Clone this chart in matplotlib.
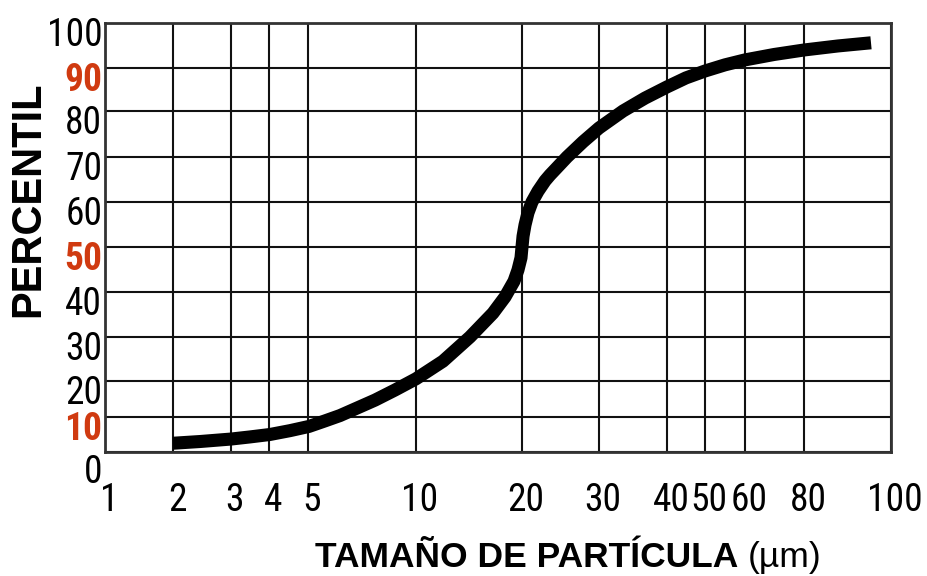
import numpy as np
import matplotlib
matplotlib.use("Agg")
import matplotlib.pyplot as plt
from matplotlib import font_manager
from matplotlib.transforms import ScaledTranslation

# curve: particle size (um) vs cumulative percentile
size_um = [2.0, 2.42, 3.0, 3.46, 4.02, 4.51, 5.03, 5.58, 6.14, 6.89, 7.69, 8.74,
           10.0, 11.93, 14.23, 16.54, 17.9, 18.98, 19.48, 19.87, 20.0, 20.11, 20.32,
           20.64, 21.08, 21.76, 22.58, 23.18, 23.92, 25.35, 27.58, 30.0, 33.21, 36.45,
           40.0, 44.72, 50.0, 54.77, 60.0, 69.11, 80.0, 87.29, 95.0]
percentile = [2.5, 3.0, 3.7, 4.3, 5.0, 6.1, 7.3, 8.9, 10.4, 12.6, 14.7, 17.5,
              20.5, 24.5, 30.0, 35.3, 38.9, 42.4, 44.9, 47.6, 50.0, 52.4, 54.9,
              57.6, 60.0, 62.4, 64.7, 66.0, 67.4, 70.0, 73.3, 76.3, 80.0, 83.0,
              85.6, 87.7, 89.3, 90.7, 91.8, 93.0, 94.0, 94.9, 95.6]

x_ticks = [1, 2, 3, 4, 5, 10, 20, 30, 40, 50, 60, 80, 100]
y_ticks = [0, 10, 20, 30, 40, 50, 60, 70, 80, 90, 100]
red_ticks = [10, 50, 90]

# the paper grid is hand-spaced, not a true log/linear grid: where each
# gridline sits on the sheet (pixels of the original drawing)
x_grid_pos = np.array([105, 173, 231, 269, 308, 416, 522, 599, 667, 705, 745, 804, 891], float)
y_grid_pos = -np.array([452, 417, 381, 337, 292, 247, 202, 157, 111, 68, 23], float)
log_xt = np.log10(x_ticks)


def fwd_x(v):
    v = np.clip(np.asarray(v, float), 1e-6, None)
    return np.interp(np.log10(v), log_xt, x_grid_pos)


def inv_x(p):
    return 10 ** np.interp(p, x_grid_pos, log_xt)


def fwd_y(v):
    return np.interp(v, y_ticks, y_grid_pos)


def inv_y(p):
    return np.interp(p, y_grid_pos, y_ticks)


RED = "#D03A10"
installed = {f.name for f in font_manager.fontManager.ttflist}
tick_font = next((f for f in ["Liberation Sans Narrow", "Arial Narrow", "Roboto Condensed"]
                  if f in installed), "Liberation Sans")

fig = plt.figure(figsize=(9.28, 5.76), dpi=100)
ax = fig.add_axes([105 / 928, 1 - 452 / 576, 786 / 928, 429 / 576])

ax.set_xscale("function", functions=(fwd_x, inv_x))
ax.set_yscale("function", functions=(fwd_y, inv_y))
ax.set_xlim(1, 100)
ax.set_ylim(0, 100)

ax.plot(size_um, percentile, color="black", lw=9.4,
        solid_capstyle="butt", solid_joinstyle="round", zorder=3)

ax.set_xticks(x_ticks, [str(t) for t in x_ticks])
ax.set_yticks(y_ticks, [str(t) for t in y_ticks])
ax.minorticks_off()
ax.grid(True, color="#111111", lw=1.5)
ax.set_axisbelow(True)
for sp in ax.spines.values():
    sp.set_color("#333333")
    sp.set_linewidth(2.0)

ax.tick_params(axis="both", length=0, labelsize=27)
ax.tick_params(axis="x", pad=21.5)
ax.tick_params(axis="y", pad=2)

for lab in ax.get_xticklabels():
    lab.set_family(tick_font)
    lab.set_transform(lab.get_transform() + ScaledTranslation(4 / 100, 0, fig.dpi_scale_trans))

for lab, t in zip(ax.get_yticklabels(), y_ticks):
    lab.set_family(tick_font)
    lab.set_va("top")
    dy = 6 if t != 0 else -2
    lab.set_transform(lab.get_transform() + ScaledTranslation(0, dy / 100, fig.dpi_scale_trans))
    if t in red_ticks:
        lab.set_color(RED)
        lab.set_fontweight("bold")

fig.text(28.5 / 928, 1 - 199.5 / 576, "PERCENTIL", rotation=90, ha="center", va="center",
         fontsize=30, fontweight="bold", family="Liberation Sans")
xl = fig.text(315 / 928, 1 - 567 / 576, "TAMAÑO DE PARTÍCULA", ha="left", va="baseline",
              fontsize=25.5, fontweight="bold", family="Liberation Sans")
ax.annotate("(µm)", xy=(1, 0), xycoords=xl, xytext=(7, 0), textcoords="offset points",
            ha="left", va="bottom", fontsize=25.5, family="Liberation Sans",
            annotation_clip=False)

fig.savefig("out.png", dpi=100)
